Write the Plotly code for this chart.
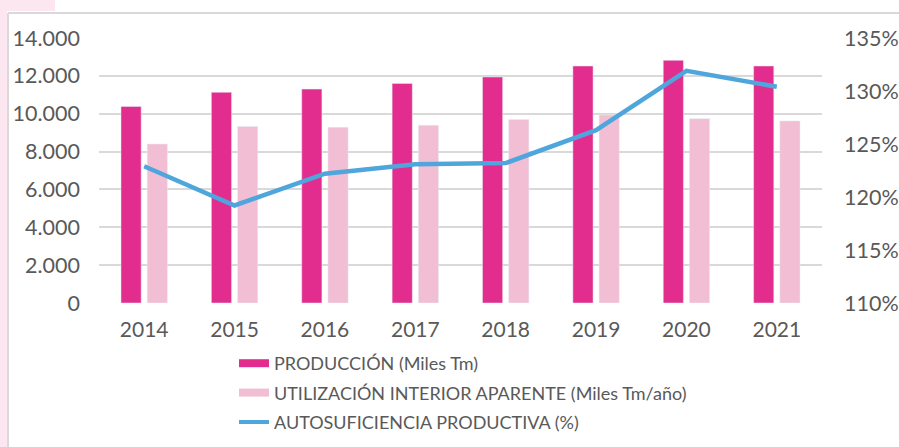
import plotly.graph_objects as go

years = ["2014", "2015", "2016", "2017", "2018", "2019", "2020", "2021"]
produccion = [10380, 11130, 11300, 11600, 11940, 12520, 12820, 12520]
utilizacion = [8400, 9330, 9280, 9390, 9690, 9930, 9740, 9620]
autosuficiencia = [122.9, 119.2, 122.2, 123.1, 123.2, 126.3, 131.9, 130.4]

left_ticks = [0, 2000, 4000, 6000, 8000, 10000, 12000, 14000]
left_labels = ["0", "2.000", "4.000", "6.000", "8.000", "10.000", "12.000", "14.000"]
right_ticks = [110, 115, 120, 125, 130, 135]
right_labels = ["110%", "115%", "120%", "125%", "130%", "135%"]

C_PROD = "#E22D8E"
C_UTIL = "#F2BED4"
C_LINE = "#4FA6DC"
GRID = "#D9D9D9"
TXT = "#595959"

W, H = 899, 447
L, R, T, B = 99, 822, 38, 303


def px(x):
    return (x - L) / (R - L)


def py(y):
    return (B - y) / (B - T)


fig = go.Figure()
fig.add_trace(go.Bar(x=years, y=produccion, marker_color=C_PROD, showlegend=False,
                     name="PRODUCCIÓN (Miles Tm)"))
fig.add_trace(go.Bar(x=years, y=utilizacion, marker_color=C_UTIL, showlegend=False,
                     name="UTILIZACIÓN INTERIOR APARENTE (Miles Tm/año)"))
fig.add_trace(go.Scatter(x=years, y=autosuficiencia, yaxis="y2", mode="lines",
                         line=dict(color=C_LINE, width=4.5), showlegend=False,
                         name="AUTOSUFICIENCIA PRODUCTIVA (%)"))

# legend entries (wide swatches like the original)
for nm, col, g in [("PRODUCCIÓN (Miles Tm)", C_PROD, "a"),
                   ("UTILIZACIÓN INTERIOR APARENTE (Miles Tm/año)", C_UTIL, "b"),
                   ("AUTOSUFICIENCIA PRODUCTIVA (%)", C_LINE, "c")]:
    fig.add_trace(go.Scatter(x=[None], y=[None], mode="lines", name=nm,
                             legendgroup=g,
                             line=dict(color=col, width=8 if g != "c" else 4)))

shapes = [
    dict(type="rect", xref="paper", yref="paper", x0=px(0), x1=px(7), y0=py(H), y1=py(0),
         fillcolor="#FCE6EF", line_width=0, layer="below"),
    dict(type="rect", xref="paper", yref="paper", x0=px(0), x1=px(55), y0=py(11), y1=py(0),
         fillcolor="#FCE6EF", line_width=0, layer="below"),
    dict(type="line", xref="paper", yref="paper", x0=px(8), x1=px(W), y0=py(13), y1=py(13),
         line=dict(color=GRID, width=2)),
    dict(type="line", xref="paper", yref="paper", x0=px(8), x1=px(8), y0=py(13), y1=py(H),
         line=dict(color=GRID, width=2)),
]

fig.update_layout(
    width=W, height=H,
    margin=dict(l=L, r=W - R, t=T, b=H - B, autoexpand=False),
    paper_bgcolor="white", plot_bgcolor="white",
    font=dict(family="Lato", color=TXT, size=21),
    barmode="group", bargap=0.42, bargroupgap=0.23,
    xaxis=dict(showgrid=False, showline=False, ticks="", tickfont=dict(size=21),
               ticklabelstandoff=12, automargin=False),
    yaxis=dict(range=[0, 14000], tickvals=left_ticks, ticktext=left_labels,
               showgrid=True, gridcolor=GRID, gridwidth=1.5, zeroline=False,
               showline=False, ticklabelstandoff=18, tickfont=dict(size=21.5),
               automargin=False),
    yaxis2=dict(range=[110, 135], tickvals=right_ticks, ticktext=right_labels,
                overlaying="y", side="right", showgrid=False, zeroline=False,
                showline=False, ticklabelstandoff=21, tickfont=dict(size=21.5),
                automargin=False),
    legend=dict(x=px(234), y=py(345), xanchor="left", yanchor="top",
                orientation="v", font=dict(size=18, color=TXT),
                tracegroupgap=3, bgcolor="rgba(0,0,0,0)"),
    shapes=shapes,
)

fig.write_html("out.html", config={"displayModeBar": False},
               post_script="document.body.style.margin='0px';document.body.style.overflow='hidden';")
